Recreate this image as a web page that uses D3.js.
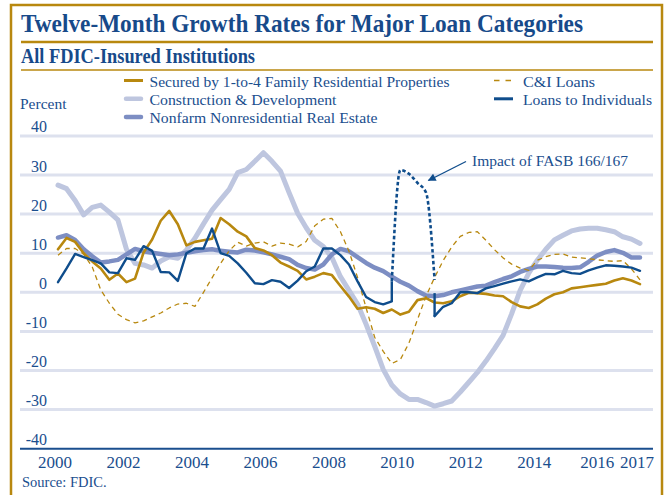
<!DOCTYPE html>
<html>
<head>
<meta charset="utf-8">
<script src="https://cdn.jsdelivr.net/npm/d3@7"></script>
<style>
  body { margin: 0; background: #fff; }
  svg text { font-family: "Liberation Serif", "DejaVu Serif", serif; fill: #1a4e8e; }
</style>
</head>
<body>
<div id="chart"></div>
<script>
// *** Twelve-Month Growth Rates for Major Loan Categories ***

// Quarterly observations, 2000Q1 - 2017Q1 (decimal year of each quarter)
let quarters = d3.range(69).map(i => 2000 + i / 4);

// Percent growth
let residential = [11, 13.9, 12.9, 10, 7.9, 6.1, 3.2, 4.8, 2.6, 3.5, 10.2, 13.5, 18.3, 20.8, 17.4, 12,
    12.9, 13.3, 13.7, 19, 17.4, 15.5, 14.3, 11.3, 10.7, 9.5, 7.6, 6.6, 5.5, 3.3, 4, 4.9,
    4.4, 1.6, -1.1, -4.2, -3.8, -4.2, -5.3, -4.4, -5.7, -5, -2, -1.5, -2.6, -2.8, -2.3, -1,
    -0.1, -0.2, -0.4, -0.8, -1, -2.5, -3.6, -4, -3.1, -1.6, -0.5, 0, 1, 1.3, 1.6, 1.9,
    2.2, 3, 3.6, 3, 2.1];
let construction = [27.4, 26.5, 23.5, 19.8, 21.7, 22.3, 20.5, 18.5, 11, 7.4, 7, 6.2, 8, 9.1, 8.7, 10.8,
    13.8, 17.5, 21, 23.7, 26.3, 30.6, 31.4, 33.5, 35.7, 33.5, 31, 25.5, 20.2, 16.5, 13.3, 11.7,
    8.9, 4, 0.5, -3, -8.2, -13.8, -19.7, -23.7, -26, -27.4, -27.4, -28.2, -29.1, -28.5, -27.8, -25.5,
    -23, -20.5, -17.6, -14.4, -11, -5.5, 0.5, 4.9, 8.2, 11, 13.4, 14.6, 15.7, 16.2, 16.4, 16.4,
    16, 15.5, 14.2, 13.6, 12.5];
let nonfarm = [14, 14.6, 13.4, 11, 9.2, 7.6, 7.9, 8.3, 9.7, 11.1, 10.5, 10.1, 9.8, 9.5, 9.7, 10.1,
    10.5, 10.8, 11, 10.6, 10.4, 10.2, 10.9, 10.7, 10.2, 9.7, 9.1, 8.5, 7, 6.2, 5.8, 7.1,
    9.7, 11.1, 10.5, 9, 7.5, 6.3, 5.4, 4, 2.7, 1.7, 0.3, -0.8, -1, -0.7, 0, 0.5,
    1, 1.5, 1.7, 2.6, 3.4, 4.1, 5.2, 6, 6.6, 6.6, 6.5, 6.3, 6.2, 6.4, 7.8, 9.4,
    10.3, 10.8, 10.1, 8.9, 8.9];
let cni = [9.5, 11.2, 11.2, 9.8, 6.5, 0.6, -2.8, -5.6, -7, -7.8, -7.3, -6.3, -5.3, -4, -3, -2.8,
    -3.6, 0, 3.7, 7.4, 10.6, 12.8, 11.8, 12.6, 12.9, 11.8, 12.6, 12.3, 11.6, 13, 17, 18.7,
    18.9, 15.5, 10.5, 3.8, -4, -11.5, -15.1, -18.2, -17.2, -13, -7, -1, 3.8, 8.1, 11.6, 14.3,
    15.3, 15.5, 13.3, 10.9, 8.8, 7.2, 6.2, 5.6, 8.2, 9.1, 9.7, 9.8, 9, 8.8, 8.6, 8.3,
    8.1, 7.9, 8.1, 6, 3.2];
// 2010 gap is shown by the FASB 166/167 dotted segment
let individuals = [2.6, 6.1, 9.8, 9, 8.2, 7.4, 5.1, 4.9, 8.7, 8.3, 11.8, 10.6, 5.2, 5.1, 2.9, 10,
    11.2, 11.2, 16.3, 10, 9.3, 7.4, 5, 2.3, 2.1, 3.1, 2.7, 1.1, 3, 5.4, 6.6, 11.2,
    11.2, 9.5, 7.1, 2.8, -1.2, -2.5, -3.1, -2.3, null, null, null, null, -6.1, -3.7, -2.8, 0,
    0, -0.2, 1, 1.6, 2.2, 2.8, 3.3, 2.8, 3.8, 4.7, 4.6, 5.5, 4.9, 4.7, 5.6, 6.3,
    6.9, 6.8, 6.6, 6.3, 5.5];

// Impact of FASB 166/167 (loans to individuals, as reported)
let fasbQuarters = [2009.75, 2010, 2010.25, 2010.5, 2010.75, 2011];
let fasbValues = [2.8, 31.3, 30.3, 28, 25.5, 3.2];
// short solid joins on each side of the dotted segment
let joinQuarters = [2009.75, 2011];
let joinFrom = [-2.3, -0.2];
let joinTo = [2.8, -6.1];

let yTicks = [-40, -30, -20, -10, 0, 10, 20, 30, 40];
let xTicks = [2000, 2002, 2004, 2006, 2008, 2010, 2012, 2014, 2016, 2017];

// Colours
let gold = "#b8880f";
let lightLav = "#bec6df";
let midLav = "#7d8ec3";
let navy = "#0f4d8c";
let textBlue = "#1a4e8e";

let svgWidth = 668;
let svgHeight = 495;

let svg = d3.select("#chart")
    .append("svg")
    .attr("width", svgWidth)
    .attr("height", svgHeight);

// Frame
svg.append("rect")
    .attr("x", 11).attr("y", 5)
    .attr("width", 651).attr("height", 500)
    .attr("fill", "none")
    .attr("stroke", gold)
    .attr("stroke-width", 2.5);

// Title block
svg.append("text")
    .attr("x", 21).attr("y", 31.5)
    .attr("font-size", "25px")
    .attr("font-weight", "bold")
    .attr("textLength", 562)
    .attr("lengthAdjust", "spacingAndGlyphs")
    .style("fill", "#174a8a")
    .text("Twelve-Month Growth Rates for Major Loan Categories");

svg.append("line")
    .attr("x1", 21).attr("x2", 653)
    .attr("y1", 42).attr("y2", 42)
    .attr("stroke", gold)
    .attr("stroke-width", 2.5);

svg.append("text")
    .attr("x", 21).attr("y", 62.5)
    .attr("font-size", "20px")
    .attr("font-weight", "bold")
    .attr("textLength", 234)
    .attr("lengthAdjust", "spacingAndGlyphs")
    .style("fill", "#174a8a")
    .text("All FDIC-Insured Institutions");

svg.append("line")
    .attr("x1", 21).attr("x2", 653)
    .attr("y1", 70).attr("y2", 70)
    .attr("stroke", gold)
    .attr("stroke-width", 1.5);

// Scales
let xScale = d3.scaleLinear().domain([2000, 2017]).range([58, 640]);
let yScale = d3.scaleLinear().domain([-40, 40]).range([448.7, 135.9]);

// Gridlines
svg.append("g")
    .selectAll("line")
    .data(yTicks.filter(d => d > -40))
    .enter()
    .append("line")
    .attr("x1", 20).attr("x2", 653)
    .attr("y1", d => yScale(d)).attr("y2", d => yScale(d))
    .attr("stroke", "#dde1ee")
    .attr("stroke-width", 3);

// Y axis labels sit just above each gridline (plain hyphen for negatives)
let yAxis = svg.append("g")
    .attr("transform", "translate(47,0)")
    .call(d3.axisLeft(yScale).tickValues(yTicks).tickFormat(d => String(d)).tickSize(0).tickPadding(0));
yAxis.select(".domain").remove();
yAxis.selectAll("text")
    .attr("dy", -4)
    .attr("font-size", "16px")
    .style("font-family", "Liberation Serif")
    .style("fill", textBlue);

svg.append("text")
    .attr("x", 20).attr("y", 108.5)
    .attr("font-size", "15.5px")
    .text("Percent");

// X axis
svg.append("line")
    .attr("x1", 20).attr("x2", 653)
    .attr("y1", yScale(-40)).attr("y2", yScale(-40))
    .attr("stroke", textBlue)
    .attr("stroke-width", 2);

let xAxis = svg.append("g")
    .attr("transform", `translate(0,${yScale(-40)})`)
    .call(d3.axisBottom(xScale).tickValues(xTicks).tickFormat(d => String(d)).tickSize(0));
xAxis.select(".domain").remove();
xAxis.selectAll("text")
    .attr("y", 0)
    .attr("dy", 19.5)
    .attr("dx", d => d === 2016 ? -9 : -3.5)
    .attr("font-size", "17px")
    .style("font-family", "Liberation Serif")
    .style("fill", textBlue);

svg.append("text")
    .attr("x", 22).attr("y", 486.5)
    .attr("font-size", "14.5px")
    .text("Source: FDIC.");

// Lines
let line = d3.line()
    .defined(d => d[1] !== null)
    .x(d => xScale(d[0]))
    .y(d => yScale(d[1]));

function drawSeries(values, color, width, dash) {
    let path = svg.append("path")
        .datum(quarters.map((q, i) => [q, values[i]]))
        .attr("d", line)
        .attr("fill", "none")
        .attr("stroke", color)
        .attr("stroke-width", width)
        .attr("stroke-linejoin", "round")
        .attr("stroke-linecap", "round");
    if (dash) path.attr("stroke-dasharray", dash).attr("stroke-linecap", "butt");
    return path;
}

drawSeries(construction, lightLav, 5);
drawSeries(nonfarm, midLav, 4.5);
drawSeries(cni, gold, 1.3, "5,4");
drawSeries(residential, gold, 2.6);
drawSeries(individuals, navy, 2.4);

// FASB 166/167 dotted segment
svg.append("path")
    .datum(fasbQuarters.map((q, i) => [q, fasbValues[i]]))
    .attr("d", d3.line().curve(d3.curveMonotoneX).x(d => xScale(d[0])).y(d => yScale(d[1])))
    .attr("fill", "none")
    .attr("stroke", navy)
    .attr("stroke-width", 2.6)
    .attr("stroke-dasharray", "3.5,2.5");

svg.append("g")
    .selectAll("line")
    .data(joinQuarters)
    .enter()
    .append("line")
    .attr("x1", d => xScale(d)).attr("x2", d => xScale(d))
    .attr("y1", (d, i) => yScale(joinFrom[i]))
    .attr("y2", (d, i) => yScale(joinTo[i]))
    .attr("stroke", navy)
    .attr("stroke-width", 2.4);

// Annotation
svg.append("defs").append("marker")
    .attr("id", "arrow")
    .attr("viewBox", "0 0 10 10")
    .attr("refX", 9).attr("refY", 5)
    .attr("markerWidth", 10).attr("markerHeight", 8)
    .attr("markerUnits", "userSpaceOnUse")
    .attr("orient", "auto")
    .append("path")
    .attr("d", "M0,0L10,5L0,10Z")
    .attr("fill", navy);

svg.append("line")
    .attr("x1", 466).attr("y1", 161.5)
    .attr("x2", xScale(2010.82)).attr("y2", yScale(28.6))
    .attr("stroke", navy)
    .attr("stroke-width", 1.3)
    .attr("marker-end", "url(#arrow)");

svg.append("text")
    .attr("x", 472).attr("y", 165.5)
    .attr("font-size", "15.5px")
    .text("Impact of FASB 166/167");

// Legend
let legendNames = ["Secured by 1-to-4 Family Residential Properties", "Construction & Development",
    "Nonfarm Nonresidential Real Estate", "C&I Loans", "Loans to Individuals"];
let legendStyle = [
    {x: 124, y: 80.5, color: gold, width: 3, cap: "butt", len: 300},
    {x: 124, y: 98.8, color: lightLav, width: 4.5, cap: "round", len: 187},
    {x: 124, y: 117.1, color: midLav, width: 4.5, cap: "round", len: 228},
    {x: 494, y: 80.5, color: gold, width: 1.5, cap: "butt", dash: "5.5,6", len: 72},
    {x: 494, y: 98.8, color: navy, width: 3, cap: "butt", len: 129}
];

let legend = svg.append("g")
    .selectAll("g")
    .data(legendNames)
    .enter()
    .append("g")
    .attr("transform", (d, i) => `translate(${legendStyle[i].x},${legendStyle[i].y})`);

legend.append("line")
    .attr("x1", (d, i) => legendStyle[i].cap === "round" ? 2 : 0)
    .attr("x2", (d, i) => legendStyle[i].cap === "round" ? 17 : 19)
    .attr("stroke", (d, i) => legendStyle[i].color)
    .attr("stroke-width", (d, i) => legendStyle[i].width)
    .attr("stroke-linecap", (d, i) => legendStyle[i].cap)
    .attr("stroke-dasharray", (d, i) => legendStyle[i].dash || null);

legend.append("text")
    .attr("x", (d, i) => i < 3 ? 25.5 : 29)
    .attr("y", 6)
    .attr("font-size", "15px")
    .attr("textLength", (d, i) => legendStyle[i].len)
    .attr("lengthAdjust", "spacingAndGlyphs")
    .text(d => d);
</script>
</body>
</html>
